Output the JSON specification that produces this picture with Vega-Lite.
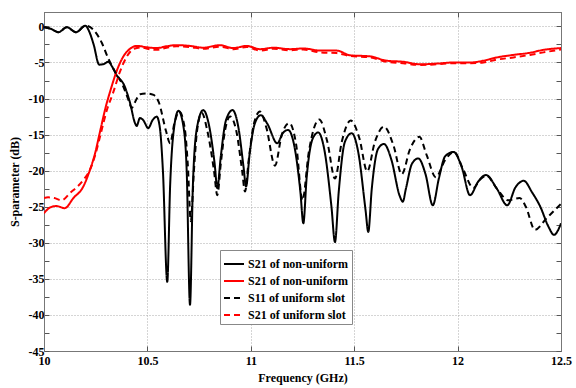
{
 "$schema": "https://vega.github.io/schema/vega-lite/v6.json",
 "width": 517, "height": 339,
 "autosize": {"type": "none"},
 "padding": {"left": 44, "top": 12, "right": 15, "bottom": 37},
 "background": "white",
 "config": {
  "font": "Liberation Serif, Times New Roman, serif",
  "view": {"stroke": "#777", "strokeWidth": 1},
  "axis": {"labelFont": "Liberation Serif, Times New Roman, serif", "labelFontWeight": "bold", "labelFontSize": 12, "labelColor": "#000", "titleFont": "Liberation Serif, Times New Roman, serif", "titleFontWeight": "bold", "titleFontSize": 12, "titleColor": "#000", "domainColor": "#777", "tickColor": "#555", "gridColor": "#aaa", "gridDash": [1, 2], "gridWidth": 1},
  "legend": {"labelFont": "Liberation Serif, Times New Roman, serif"}
 },
 "data": {"values": [
  {"s":"a","f":10.0,"v":-0.1},{"s":"a","f":10.03,"v":-0.3},{"s":"a","f":10.07,"v":-0.8},{"s":"a","f":10.11,"v":-0.1},{"s":"a","f":10.155,"v":-0.8},{"s":"a","f":10.2,"v":0.1},{"s":"a","f":10.22,"v":-0.8},{"s":"a","f":10.24,"v":-2.5},{"s":"a","f":10.267,"v":-5.3},{"s":"a","f":10.29,"v":-5.2},{"s":"a","f":10.31,"v":-4.9},{"s":"a","f":10.33,"v":-5.6},{"s":"a","f":10.35,"v":-6.7},{"s":"a","f":10.39,"v":-8.3},{"s":"a","f":10.416,"v":-10.6},{"s":"a","f":10.44,"v":-13.4},{"s":"a","f":10.448,"v":-13.8},{"s":"a","f":10.464,"v":-12.7},{"s":"a","f":10.48,"v":-13.0},{"s":"a","f":10.504,"v":-14.1},{"s":"a","f":10.525,"v":-13.0},{"s":"a","f":10.545,"v":-12.5},{"s":"a","f":10.56,"v":-14},{"s":"a","f":10.575,"v":-20},{"s":"a","f":10.596,"v":-35.4},{"s":"a","f":10.61,"v":-22},{"s":"a","f":10.625,"v":-15},{"s":"a","f":10.65,"v":-11.7},{"s":"a","f":10.675,"v":-14},{"s":"a","f":10.69,"v":-20},{"s":"a","f":10.706,"v":-38.6},{"s":"a","f":10.72,"v":-22},{"s":"a","f":10.74,"v":-14},{"s":"a","f":10.77,"v":-11.6},{"s":"a","f":10.8,"v":-14},{"s":"a","f":10.825,"v":-19},{"s":"a","f":10.838,"v":-22.4},{"s":"a","f":10.855,"v":-18},{"s":"a","f":10.88,"v":-13},{"s":"a","f":10.912,"v":-11.6},{"s":"a","f":10.94,"v":-14},{"s":"a","f":10.965,"v":-19.5},{"s":"a","f":10.977,"v":-22.2},{"s":"a","f":10.995,"v":-17.5},{"s":"a","f":11.02,"v":-13.4},{"s":"a","f":11.048,"v":-12.3},{"s":"a","f":11.08,"v":-13.5},{"s":"a","f":11.128,"v":-16.2},{"s":"a","f":11.155,"v":-14.8},{"s":"a","f":11.18,"v":-14.35},{"s":"a","f":11.21,"v":-16.5},{"s":"a","f":11.24,"v":-23},{"s":"a","f":11.254,"v":-27.3},{"s":"a","f":11.27,"v":-21},{"s":"a","f":11.3,"v":-15.5},{"s":"a","f":11.326,"v":-14.7},{"s":"a","f":11.355,"v":-17},{"s":"a","f":11.39,"v":-25},{"s":"a","f":11.407,"v":-29.9},{"s":"a","f":11.425,"v":-23},{"s":"a","f":11.455,"v":-16},{"s":"a","f":11.488,"v":-14.8},{"s":"a","f":11.52,"v":-17.5},{"s":"a","f":11.555,"v":-25.5},{"s":"a","f":11.568,"v":-28.5},{"s":"a","f":11.585,"v":-22.5},{"s":"a","f":11.615,"v":-17},{"s":"a","f":11.644,"v":-16.3},{"s":"a","f":11.68,"v":-18.5},{"s":"a","f":11.72,"v":-23.5},{"s":"a","f":11.735,"v":-24.3},{"s":"a","f":11.75,"v":-22.5},{"s":"a","f":11.78,"v":-19},{"s":"a","f":11.81,"v":-18.3},{"s":"a","f":11.845,"v":-20.5},{"s":"a","f":11.88,"v":-24.8},{"s":"a","f":11.91,"v":-21},{"s":"a","f":11.94,"v":-18},{"s":"a","f":11.98,"v":-17.4},{"s":"a","f":12.02,"v":-19.5},{"s":"a","f":12.06,"v":-23.4},{"s":"a","f":12.1,"v":-21.5},{"s":"a","f":12.137,"v":-20.6},{"s":"a","f":12.19,"v":-22.5},{"s":"a","f":12.24,"v":-24.8},{"s":"a","f":12.28,"v":-22.3},{"s":"a","f":12.32,"v":-21.4},{"s":"a","f":12.36,"v":-23},{"s":"a","f":12.4,"v":-25},{"s":"a","f":12.44,"v":-27.8},{"s":"a","f":12.466,"v":-28.9},{"s":"a","f":12.485,"v":-28.3},{"s":"a","f":12.5,"v":-27.3},

  {"s":"b","f":10.0,"v":-25.9},{"s":"b","f":10.03,"v":-25.1},{"s":"b","f":10.06,"v":-24.9},{"s":"b","f":10.1,"v":-25.2},{"s":"b","f":10.142,"v":-23.8},{"s":"b","f":10.19,"v":-22.2},{"s":"b","f":10.222,"v":-19.9},{"s":"b","f":10.247,"v":-17.6},{"s":"b","f":10.27,"v":-14.7},{"s":"b","f":10.3,"v":-11.0},{"s":"b","f":10.32,"v":-9.0},{"s":"b","f":10.35,"v":-6.3},{"s":"b","f":10.383,"v":-4.2},{"s":"b","f":10.416,"v":-3.1},{"s":"b","f":10.448,"v":-2.7},{"s":"b","f":10.5,"v":-2.9},{"s":"b","f":10.545,"v":-3.0},{"s":"b","f":10.593,"v":-2.75},{"s":"b","f":10.64,"v":-2.6},{"s":"b","f":10.706,"v":-2.7},{"s":"b","f":10.77,"v":-2.95},{"s":"b","f":10.85,"v":-2.6},{"s":"b","f":10.915,"v":-3.0},{"s":"b","f":10.98,"v":-2.7},{"s":"b","f":11.045,"v":-3.15},{"s":"b","f":11.11,"v":-2.95},{"s":"b","f":11.19,"v":-3.15},{"s":"b","f":11.254,"v":-3.05},{"s":"b","f":11.335,"v":-3.35},{"s":"b","f":11.415,"v":-3.35},{"s":"b","f":11.48,"v":-4.0},{"s":"b","f":11.576,"v":-4.15},{"s":"b","f":11.657,"v":-4.75},{"s":"b","f":11.737,"v":-4.9},{"s":"b","f":11.818,"v":-5.25},{"s":"b","f":11.9,"v":-5.15},{"s":"b","f":11.98,"v":-5.0},{"s":"b","f":12.06,"v":-5.0},{"s":"b","f":12.125,"v":-4.75},{"s":"b","f":12.19,"v":-4.3},{"s":"b","f":12.27,"v":-3.95},{"s":"b","f":12.35,"v":-3.65},{"s":"b","f":12.415,"v":-3.25},{"s":"b","f":12.5,"v":-3.0},

  {"s":"c","f":10.0,"v":-0.1},{"s":"c","f":10.03,"v":-0.3},{"s":"c","f":10.07,"v":-0.8},{"s":"c","f":10.11,"v":-0.1},{"s":"c","f":10.155,"v":-0.8},{"s":"c","f":10.2,"v":0.1},{"s":"c","f":10.24,"v":-0.5},{"s":"c","f":10.28,"v":-2.3},{"s":"c","f":10.31,"v":-4.4},{"s":"c","f":10.343,"v":-6.25},{"s":"c","f":10.38,"v":-8.1},{"s":"c","f":10.41,"v":-10.3},{"s":"c","f":10.424,"v":-11.3},{"s":"c","f":10.44,"v":-10.5},{"s":"c","f":10.464,"v":-9.4},{"s":"c","f":10.5,"v":-9.3},{"s":"c","f":10.53,"v":-9.5},{"s":"c","f":10.555,"v":-10.5},{"s":"c","f":10.59,"v":-14.5},{"s":"c","f":10.61,"v":-16.2},{"s":"c","f":10.63,"v":-13.5},{"s":"c","f":10.654,"v":-11.8},{"s":"c","f":10.68,"v":-14},{"s":"c","f":10.695,"v":-19},{"s":"c","f":10.71,"v":-27},{"s":"c","f":10.725,"v":-20},{"s":"c","f":10.74,"v":-14.5},{"s":"c","f":10.763,"v":-12.0},{"s":"c","f":10.79,"v":-14.5},{"s":"c","f":10.822,"v":-20},{"s":"c","f":10.838,"v":-23.4},{"s":"c","f":10.855,"v":-19},{"s":"c","f":10.875,"v":-14.5},{"s":"c","f":10.9,"v":-12.5},{"s":"c","f":10.93,"v":-14.5},{"s":"c","f":10.958,"v":-20},{"s":"c","f":10.972,"v":-22.9},{"s":"c","f":10.99,"v":-18.5},{"s":"c","f":11.015,"v":-13.5},{"s":"c","f":11.044,"v":-11.8},{"s":"c","f":11.075,"v":-14},{"s":"c","f":11.117,"v":-19.3},{"s":"c","f":11.15,"v":-15},{"s":"c","f":11.186,"v":-13.4},{"s":"c","f":11.22,"v":-16.5},{"s":"c","f":11.25,"v":-24.1},{"s":"c","f":11.28,"v":-17.5},{"s":"c","f":11.331,"v":-12.9},{"s":"c","f":11.37,"v":-16},{"s":"c","f":11.407,"v":-21.1},{"s":"c","f":11.44,"v":-16},{"s":"c","f":11.483,"v":-13.05},{"s":"c","f":11.525,"v":-15.5},{"s":"c","f":11.563,"v":-20.1},{"s":"c","f":11.6,"v":-16},{"s":"c","f":11.644,"v":-13.9},{"s":"c","f":11.69,"v":-16.5},{"s":"c","f":11.73,"v":-20.5},{"s":"c","f":11.77,"v":-17},{"s":"c","f":11.815,"v":-15.3},{"s":"c","f":11.85,"v":-17.8},{"s":"c","f":11.895,"v":-20.9},{"s":"c","f":11.94,"v":-18.5},{"s":"c","f":11.983,"v":-17.4},{"s":"c","f":12.028,"v":-19.9},{"s":"c","f":12.076,"v":-22.4},{"s":"c","f":12.11,"v":-21.2},{"s":"c","f":12.14,"v":-20.7},{"s":"c","f":12.19,"v":-22.5},{"s":"c","f":12.245,"v":-24.1},{"s":"c","f":12.3,"v":-23.8},{"s":"c","f":12.33,"v":-25},{"s":"c","f":12.374,"v":-28.2},{"s":"c","f":12.43,"v":-26.6},{"s":"c","f":12.5,"v":-24.6},

  {"s":"d","f":10.0,"v":-23.8},{"s":"d","f":10.02,"v":-23.7},{"s":"d","f":10.05,"v":-23.8},{"s":"d","f":10.085,"v":-24.1},{"s":"d","f":10.126,"v":-23.1},{"s":"d","f":10.19,"v":-21.3},{"s":"d","f":10.222,"v":-19.9},{"s":"d","f":10.25,"v":-17.6},{"s":"d","f":10.275,"v":-14.8},{"s":"d","f":10.305,"v":-11.5},{"s":"d","f":10.333,"v":-9.3},{"s":"d","f":10.367,"v":-6.3},{"s":"d","f":10.4,"v":-4.2},{"s":"d","f":10.435,"v":-3.1},{"s":"d","f":10.47,"v":-2.9},{"s":"d","f":10.5,"v":-3.1},{"s":"d","f":10.545,"v":-3.25},{"s":"d","f":10.593,"v":-2.95},{"s":"d","f":10.64,"v":-2.75},{"s":"d","f":10.706,"v":-2.85},{"s":"d","f":10.77,"v":-3.1},{"s":"d","f":10.85,"v":-2.8},{"s":"d","f":10.915,"v":-3.15},{"s":"d","f":10.98,"v":-2.85},{"s":"d","f":11.045,"v":-3.35},{"s":"d","f":11.11,"v":-3.1},{"s":"d","f":11.19,"v":-3.3},{"s":"d","f":11.254,"v":-3.2},{"s":"d","f":11.335,"v":-3.6},{"s":"d","f":11.415,"v":-3.7},{"s":"d","f":11.48,"v":-4.1},{"s":"d","f":11.576,"v":-4.3},{"s":"d","f":11.657,"v":-4.9},{"s":"d","f":11.737,"v":-5.1},{"s":"d","f":11.818,"v":-5.35},{"s":"d","f":11.9,"v":-5.25},{"s":"d","f":11.98,"v":-5.1},{"s":"d","f":12.06,"v":-5.1},{"s":"d","f":12.125,"v":-5.0},{"s":"d","f":12.19,"v":-4.6},{"s":"d","f":12.27,"v":-4.3},{"s":"d","f":12.35,"v":-3.95},{"s":"d","f":12.415,"v":-3.6},{"s":"d","f":12.5,"v":-3.2}
 ]},
 "layer": [
  {
   "mark": {"type": "line", "interpolate": "monotone", "strokeWidth": 2, "clip": true},
   "encoding": {
    "x": {"field": "f", "type": "quantitative", "scale": {"domain": [10, 12.5], "nice": false, "zero": false},
      "axis": {"title": "Frequency (GHz)", "values": [10, 10.5, 11, 11.5, 12, 12.5], "labelExpr": "'' + datum.value", "tickSize": -5, "labelPadding": 9, "titlePadding": 6, "grid": true, "labelFlush": false, "labelOverlap": false}},
    "y": {"field": "v", "type": "quantitative", "scale": {"domain": [-45, 2], "nice": false, "zero": false},
      "axis": {"title": "S-parameter (dB)", "values": [-45, -42.5, -40, -37.5, -35, -32.5, -30, -27.5, -25, -22.5, -20, -17.5, -15, -12.5, -10, -7.5, -5, -2.5, 0], "labelExpr": "datum.value % 5 == 0 ? '' + datum.value : ''", "tickSize": -5, "labelPadding": 5, "titlePadding": 7, "grid": true, "gridOpacity": {"condition": {"test": "datum.value % 5 != 0", "value": 0}, "value": 1}, "labelFlush": false, "labelOverlap": false}},
    "color": {"field": "s", "type": "nominal", "scale": {"domain": ["a", "b", "c", "d"], "range": ["#000000", "#ff0000", "#000000", "#ff0000"]},
      "legend": {"orient": "none", "legendX": 176, "legendY": 238, "title": null, "symbolType": "stroke", "symbolSize": 400, "symbolStrokeWidth": 2, "labelFontSize": 12, "labelFontWeight": "bold", "labelColor": "#000", "labelOffset": 3, "padding": 3, "rowPadding": -1, "fillColor": "white", "strokeColor": "#888", "labelExpr": "datum.label == 'a' ? 'S21 of non-uniform' : datum.label == 'b' ? 'S21 of non-uniform' : datum.label == 'c' ? 'S11 of uniform slot' : 'S21 of uniform slot'"}},
    "strokeDash": {"field": "s", "type": "nominal", "scale": {"domain": ["a", "b", "c", "d"], "range": [[1, 0], [1, 0], [6, 4], [6, 4]]},
      "legend": {"orient": "none", "legendX": 176, "legendY": 238, "title": null, "symbolType": "stroke", "symbolSize": 400, "symbolStrokeWidth": 2, "labelFontSize": 12, "labelFontWeight": "bold", "labelColor": "#000", "labelOffset": 3, "padding": 3, "rowPadding": -1, "fillColor": "white", "strokeColor": "#888", "labelExpr": "datum.label == 'a' ? 'S21 of non-uniform' : datum.label == 'b' ? 'S21 of non-uniform' : datum.label == 'c' ? 'S11 of uniform slot' : 'S21 of uniform slot'"}}
   }
  },
  {
   "mark": {"type": "line", "opacity": 0},
   "encoding": {
    "x": {"field": "f", "type": "quantitative", "axis": {"orient": "top", "title": null, "labels": false, "values": [10, 10.5, 11, 11.5, 12, 12.5], "tickSize": -5, "grid": false}},
    "y": {"field": "v", "type": "quantitative", "axis": {"orient": "right", "title": null, "labels": false, "values": [-45, -42.5, -40, -37.5, -35, -32.5, -30, -27.5, -25, -22.5, -20, -17.5, -15, -12.5, -10, -7.5, -5, -2.5, 0], "tickSize": -5, "grid": false}},
    "detail": {"field": "s"}
   }
  }
 ],
 "resolve": {"axis": {"x": "independent", "y": "independent"}}
}
